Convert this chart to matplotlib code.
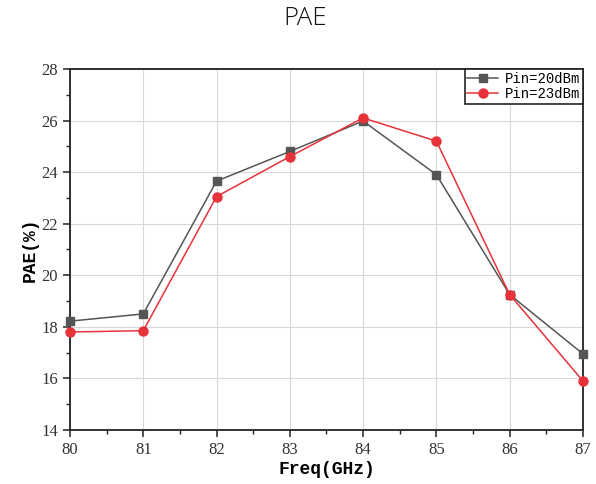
import matplotlib
matplotlib.use("Agg")
import matplotlib.pyplot as plt
from matplotlib.ticker import MultipleLocator

freq = [80, 81, 82, 83, 84, 85, 86, 87]
pae_20 = [18.22, 18.5, 23.65, 24.8, 25.98, 23.9, 19.25, 16.95]
pae_23 = [17.8, 17.85, 23.05, 24.6, 26.1, 25.2, 19.25, 15.9]
labels = ["Pin=20dBm", "Pin=23dBm"]

fig = plt.figure(figsize=(5.96, 4.84), dpi=100)
ax = fig.add_axes([0.1174, 0.1116, 0.8607, 0.746])

ax.plot(freq, pae_20, color="#555555", marker="s", markersize=5.5, lw=1.1,
        label=labels[0], clip_on=False, zorder=3)
ax.plot(freq, pae_23, color="#e8323a", marker="o", markersize=6.5, lw=1.1,
        label=labels[1], clip_on=False, zorder=3)

ax.set_xlim(80, 87)
ax.set_ylim(14, 28)
ax.xaxis.set_major_locator(MultipleLocator(1))
ax.xaxis.set_minor_locator(MultipleLocator(0.5))
ax.yaxis.set_major_locator(MultipleLocator(2))
ax.yaxis.set_minor_locator(MultipleLocator(1))
ax.grid(True, which="major", color="#d8d8d8", lw=0.8)
ax.set_axisbelow(True)
for s in ax.spines.values():
    s.set_linewidth(1.3)
    s.set_color("#222222")
ax.tick_params(which="major", direction="out", length=5, width=1.1,
               labelsize=12, colors="#222222", labelcolor="#333333")
ax.tick_params(which="minor", direction="out", length=3, width=1.0, colors="#222222")
for lab in ax.get_xticklabels() + ax.get_yticklabels():
    lab.set_family("Liberation Serif")

ax.set_xlabel("Freq(GHz)", family="Liberation Mono", fontweight="bold", fontsize=13, labelpad=2)
ax.set_ylabel("PAE(%)", family="Liberation Mono", fontweight="bold", fontsize=13, labelpad=2)

leg = ax.legend(loc="upper right", prop={"family": "Liberation Mono", "size": 10},
                frameon=True, fancybox=False, borderaxespad=0, handlelength=2.2,
                borderpad=0.2, labelspacing=0.1, handletextpad=0.5)
leg.get_frame().set_edgecolor("#222222")
leg.get_frame().set_linewidth(1.2)
leg.get_frame().set_alpha(1)

fig.text(0.512, 0.961, "PAE", ha="center", va="center", fontsize=18.5,
         family="Open Sans", fontweight="light", color="#111111")

fig.savefig("out.png", dpi=100)
